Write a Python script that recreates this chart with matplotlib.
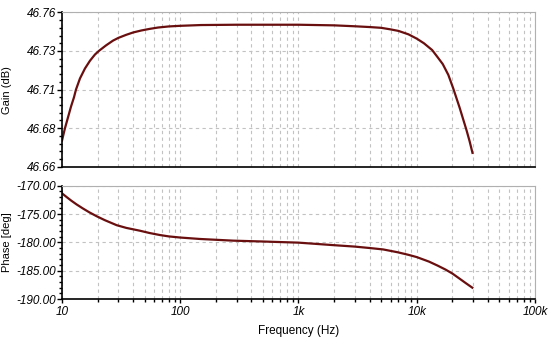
import matplotlib.pyplot as plt
import numpy as np
from matplotlib.ticker import LogLocator, NullFormatter, FixedLocator, AutoMinorLocator

plt.rcParams['font.family'] = ['Liberation Sans', 'DejaVu Sans']

# gain sweep (Hz, dB)
freq_gain = [10, 10.6, 11.24, 11.92, 12.63, 13.13, 14.19, 15.65, 17.25, 19.0,
             20.55, 23.55, 26.98, 30, 35, 40, 47, 55, 65, 80, 100, 150, 300,
             1000, 2000, 3000, 4000, 5000, 6000, 7000, 8500, 10000, 11500,
             13500, 15000, 16600, 18500, 20300, 23000, 26400, 28000, 29600]
gain_db = [46.677, 46.685, 46.692, 46.699, 46.705, 46.710, 46.7172, 46.7237,
           46.7287, 46.7327, 46.7351, 46.7386, 46.7417, 46.7435, 46.7455,
           46.747, 46.7483, 46.7493, 46.7502, 46.7509, 46.7513, 46.7518,
           46.752, 46.752, 46.7516, 46.751, 46.7505, 46.750, 46.749, 46.748,
           46.7458, 46.743, 46.740, 46.7356, 46.731, 46.7265, 46.7195, 46.711,
           46.6985, 46.6835, 46.6765, 46.669]

# phase sweep (Hz, deg)
freq_phase = [10, 11, 12, 13.3, 15, 17, 19.6, 23, 29, 35, 45.7, 55, 67, 80,
              100, 146, 280, 500, 1000, 2000, 3000, 4000, 5200, 6900, 8500,
              10000, 12700, 15000, 17500, 20000, 23000, 26000, 29500]
phase_deg = [-171.35, -172.04, -172.65, -173.31, -174.01, -174.69, -175.38,
             -176.08, -176.97, -177.45, -177.95, -178.35, -178.7, -178.95,
             -179.15, -179.4, -179.7, -179.85, -180.05, -180.5, -180.75,
             -181.0, -181.25, -181.75, -182.2, -182.6, -183.4, -184.1, -184.8,
             -185.5, -186.4, -187.2, -188.0]

gain_ticks = [46.66, 46.685, 46.71, 46.735, 46.76]
gain_labels = ['46.66', '46.68', '46.71', '46.73', '46.76']
phase_ticks = [-190, -185, -180, -175, -170]
freq_ticks = [10, 100, 1000, 10000, 100000]
freq_labels = ['10', '100', '1k', '10k', '100k']

curve = '#6a0f0f'
grid_c = '#c2c2c2'

fig = plt.figure(figsize=(5.54, 3.46), dpi=100)
ax1 = fig.add_axes([0.1119, 0.518, 0.8538, 0.4462])
ax2 = fig.add_axes([0.1119, 0.1358, 0.8538, 0.3275])

tick_font = dict(fontsize=8.5, style='italic')

for ax in (ax1, ax2):
    ax.set_xscale('log')
    ax.set_xlim(10, 100000)
    ax.xaxis.set_major_locator(FixedLocator(freq_ticks))
    ax.xaxis.set_minor_locator(LogLocator(base=10, subs=np.arange(2, 10)))
    ax.xaxis.set_minor_formatter(NullFormatter())
    ax.grid(True, which='both', axis='x', color=grid_c, linestyle=(0, (3, 3)), linewidth=0.8)
    ax.grid(True, which='major', axis='y', color=grid_c, linestyle=(0, (3, 3)), linewidth=0.8)
    ax.spines['top'].set_color('#b0b0b0')
    ax.spines['right'].set_color('#b0b0b0')
    ax.spines['left'].set_color('black')
    ax.spines['bottom'].set_color('black')
    ax.spines['left'].set_linewidth(1.2)
    ax.spines['bottom'].set_linewidth(1.2)
    ax.yaxis.set_minor_locator(AutoMinorLocator(5))
    ax.tick_params(axis='y', which='major', length=3.5, width=1, pad=1)
    ax.tick_params(axis='y', which='minor', length=2, width=1)
    ax.set_axisbelow(True)

ax1.plot(freq_gain, gain_db, color=curve, linewidth=1.6)
ax1.set_ylim(46.66, 46.76)
ax1.set_yticks(gain_ticks)
ax1.set_yticklabels(gain_labels, **tick_font)
ax1.tick_params(axis='x', which='both', length=0, labelbottom=False)
ax1.set_ylabel('Gain (dB)', fontsize=8)
ax1.yaxis.set_label_coords(-0.106, 0.5)

ax2.plot(freq_phase, phase_deg, color=curve, linewidth=1.6)
ax2.set_ylim(-190, -170)
ax2.set_yticks(phase_ticks)
ax2.set_yticklabels([f'{v:.2f}' for v in phase_ticks], **tick_font)
ax2.set_xticklabels(freq_labels, **tick_font)
ax2.tick_params(axis='x', which='major', length=3, width=1, pad=2)
ax2.tick_params(axis='x', which='minor', length=2, width=1)
ax2.set_ylabel('Phase [deg]', fontsize=8)
ax2.yaxis.set_label_coords(-0.106, 0.5)
ax2.set_xlabel('Frequency (Hz)', fontsize=8.5, labelpad=5)

fig.savefig('out.png', dpi=100)
